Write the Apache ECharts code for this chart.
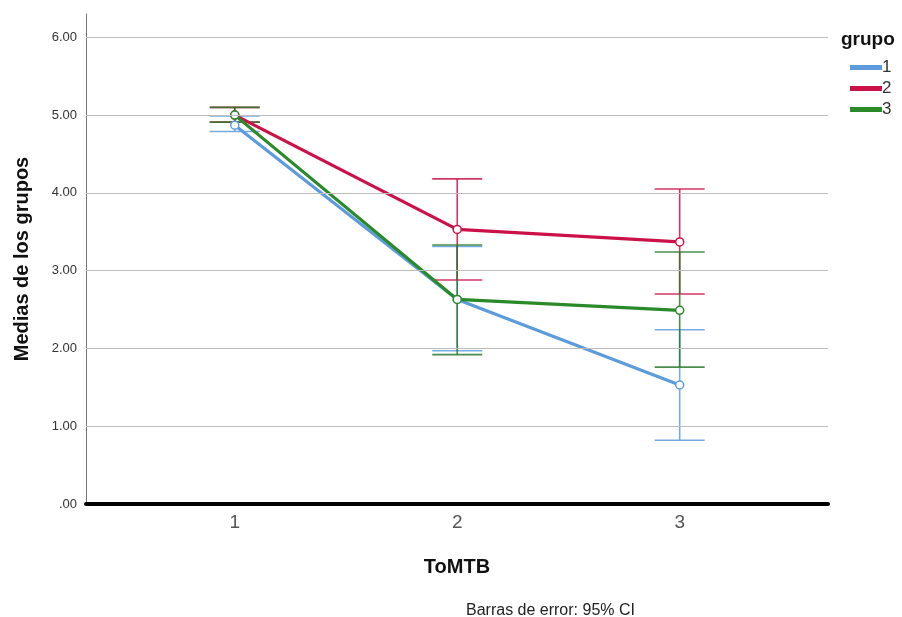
<!DOCTYPE html>
<html><head><meta charset="utf-8">
<script src="https://cdn.jsdelivr.net/npm/echarts@6/dist/echarts.min.js"></script>
<style>html,body{margin:0;padding:0;background:#fff}#c{width:902px;height:617px}</style>
</head><body><div id="c"></div>
<script>
var categories = [1, 2, 3];
var groups = ['1', '2', '3'];
var colors = ['#5d9cdc', '#cc1149', '#2a8a2a'];
var barColors = ['rgba(93,156,220,0.85)', 'rgba(204,17,73,0.85)', 'rgba(42,120,42,0.85)'];
var means1 = [4.87, 2.63, 1.53];
var lower1 = [4.79, 1.97, 0.82];
var upper1 = [4.99, 3.31, 2.24];
var means2 = [5.00, 3.53, 3.37];
var lower2 = [4.91, 2.88, 2.70];
var upper2 = [5.10, 4.18, 4.05];
var means3 = [5.00, 2.63, 2.49];
var lower3 = [4.91, 1.92, 1.76];
var upper3 = [5.10, 3.33, 3.24];
var yTicks = [0, 1, 2, 3, 4, 5, 6];

var means = [means1, means2, means3];
var lowers = [lower1, lower2, lower3];
var uppers = [upper1, upper2, upper3];

var series = [];
for (var g = 0; g < 3; g++) {
  (function (g) {
    var errData = categories.map(function (c, i) { return [c, lowers[g][i], uppers[g][i]]; });
    series.push({
      type: 'custom',
      name: groups[g] + '_err',
      z: 2,
      silent: true,
      data: errData,
      renderItem: function (params, api) {
        var x = api.value(0);
        var lo = api.coord([x, api.value(1)]);
        var hi = api.coord([x, api.value(2)]);
        var hw = 25;
        var st = { stroke: barColors[g], lineWidth: 1.6, fill: null };
        return {
          type: 'group',
          children: [
            { type: 'line', shape: { x1: lo[0], y1: lo[1], x2: hi[0], y2: hi[1] }, style: st },
            { type: 'line', shape: { x1: lo[0] - hw, y1: lo[1], x2: lo[0] + hw, y2: lo[1] }, style: st },
            { type: 'line', shape: { x1: hi[0] - hw, y1: hi[1], x2: hi[0] + hw, y2: hi[1] }, style: st }
          ]
        };
      }
    });
    series.push({
      type: 'line',
      name: groups[g],
      z: 3,
      data: categories.map(function (c, i) { return [c, means[g][i]]; }),
      symbol: 'circle',
      symbolSize: 8,
      showSymbol: true,
      lineStyle: { color: colors[g], width: 3.2 },
      itemStyle: { color: '#fff', borderColor: colors[g], borderWidth: 1.5 },
      emphasis: { disabled: true }
    });
  })(g);
}
// horizontal grid lines at the y ticks
series.push({
  type: 'line', data: [], silent: true, z: 1,
  markLine: {
    silent: true, symbol: 'none', label: { show: false },
    lineStyle: { color: '#bdbdbd', width: 1, type: 'solid' },
    data: yTicks.slice(1).map(function (v) { return { yAxis: v }; })
  }
});

var chart = echarts.init(document.getElementById('c'));
chart.setOption({
  animation: false,
  backgroundColor: '#fff',
  title: [
    { text: 'grupo', left: 836, top: 25, textStyle: { fontFamily: 'Liberation Sans', fontSize: 19, fontWeight: 'bold', color: '#111' } },
    { text: 'Barras de error: 95% CI', left: 461, top: 598, textStyle: { fontFamily: 'Liberation Sans', fontSize: 16, fontWeight: 'normal', color: '#222' } }
  ],
  legend: {
    data: groups.map(function (n, i) { return { name: n, itemStyle: { color: colors[i] } }; }),
    orient: 'vertical', left: 845, top: 54,
    icon: 'rect', itemWidth: 30, itemHeight: 3, itemGap: 4,
    textStyle: { fontFamily: 'Liberation Sans', fontSize: 17, color: '#333', padding: [0, 0, 0, -4] },
    selectedMode: false
  },
  grid: { left: 86, right: 74, top: 14, bottom: 113 },
  xAxis: {
    type: 'value', min: 1 / 3 - 0.002, max: 11 / 3,
    name: 'ToMTB', nameLocation: 'middle', nameGap: 53,
    nameTextStyle: { fontFamily: 'Liberation Sans', fontSize: 20, fontWeight: 'bold', color: '#111' },
    axisLine: { show: true, onZero: false, lineStyle: { color: '#000', width: 4 } },
    axisTick: { show: false },
    splitLine: { show: false },
    axisLabel: { customValues: categories, margin: 9, fontFamily: 'Liberation Sans', fontSize: 19, color: '#555' }
  },
  yAxis: {
    type: 'value', min: 0, max: 6.3,
    name: 'Medias de los grupos', nameLocation: 'middle', nameGap: 54,
    nameTextStyle: { fontFamily: 'Liberation Sans', fontSize: 20, fontWeight: 'bold', color: '#111' },
    axisLine: { show: true, lineStyle: { color: '#777', width: 1 } },
    axisTick: { show: false },
    splitLine: { show: false },
    axisLabel: {
      customValues: yTicks, margin: 9, fontFamily: 'Liberation Sans', fontSize: 13, color: '#333',
      formatter: function (v) { return v === 0 ? '.00' : v.toFixed(2); }
    }
  },
  series: series
});
</script></body></html>
